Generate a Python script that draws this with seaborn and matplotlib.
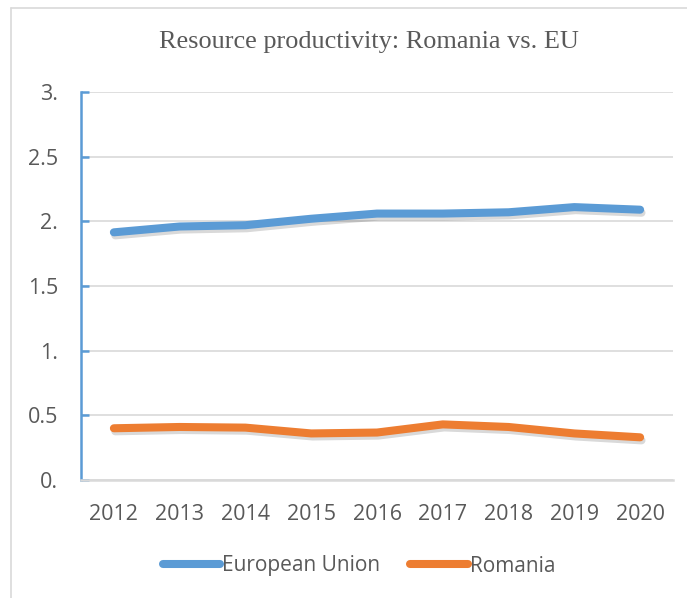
import matplotlib
matplotlib.use("Agg")
import matplotlib.pyplot as plt
import matplotlib.patheffects as pe
import seaborn as sns
import pandas as pd

years = [2012, 2013, 2014, 2015, 2016, 2017, 2018, 2019, 2020]
eu_values = [1.915, 1.96, 1.97, 2.02, 2.06, 2.06, 2.07, 2.11, 2.09]
ro_values = [0.40, 0.41, 0.405, 0.36, 0.367, 0.43, 0.41, 0.36, 0.33]
series_names = ["European Union", "Romania"]
y_ticks = [0, 0.5, 1, 1.5, 2, 2.5, 3]
y_tick_labels = ["0.", "0.5", "1.", "1.5", "2.", "2.5", "3."]
title = "Resource productivity: Romania vs. EU"

df = pd.DataFrame({
    "year": years * 2,
    "value": eu_values + ro_values,
    "series": [series_names[0]] * len(years) + [series_names[1]] * len(years),
})

sns.set_theme(style="white")
plt.rcParams["font.family"] = ["Open Sans", "DejaVu Sans"]

fig = plt.figure(figsize=(6.87, 5.98), dpi=100)
ax = fig.add_axes([81 / 687, 1 - 480 / 598, (673 - 81) / 687, (480 - 92) / 598])

palette = {"European Union": "#5b9bd5", "Romania": "#ed7d31"}
sns.lineplot(data=df, x="year", y="value", hue="series", palette=palette,
             linewidth=5.8, ax=ax, legend=False, solid_capstyle="round",
             solid_joinstyle="round")
for line in ax.lines:
    line.set_path_effects([pe.SimpleLineShadow(offset=(1.0, -2.2), alpha=0.15, shadow_color="black"),
                           pe.Normal()])

ax.set_xlim(years[0] - 0.5, years[-1] + 0.5)
ax.set_ylim(0, 3)
ax.set_yticks(y_ticks)
ax.set_yticklabels(y_tick_labels)
ax.set_xticks(years)
ax.set_xticklabels([str(y) for y in years])
ax.set_xlabel("")
ax.set_ylabel("")

ax.grid(axis="y", color="#d9d9d9", linewidth=1.2)
ax.set_axisbelow(True)
for s in ["top", "right"]:
    ax.spines[s].set_visible(False)
ax.spines["left"].set_color("#5b9bd5")
ax.spines["left"].set_linewidth(1.8)
ax.spines["bottom"].set_color("#d9d9d9")
ax.spines["bottom"].set_linewidth(1.8)

ax.tick_params(axis="y", which="both", left=True, direction="in", length=6, width=1.8,
               color="#5b9bd5", labelsize=15.5, labelcolor="#595959", pad=16.5)
ax.tick_params(axis="x", bottom=False, labelsize=15.5, labelcolor="#595959", pad=11)

fig.text(369 / 687, 1 - 42 / 598, title, ha="center", va="center",
         fontsize=18.9, color="#595959", family=["Liberation Serif", "DejaVu Serif"])

# chart frame (left and top edges visible)
fig.add_artist(plt.Line2D([11 / 687, 11 / 687], [0, 1 - 8 / 598], transform=fig.transFigure,
                          color="#d9d9d9", linewidth=1.2))
fig.add_artist(plt.Line2D([11 / 687, 1], [1 - 8 / 598, 1 - 8 / 598], transform=fig.transFigure,
                          color="#d9d9d9", linewidth=1.2))

handles = [plt.Line2D([], [], color=palette[n], linewidth=5.8, solid_capstyle="round") for n in series_names]
fig.legend(handles, series_names, loc="center", bbox_to_anchor=(359 / 687, 1 - 566 / 598),
           ncol=2, frameon=False, fontsize=15, handlelength=2.75, handletextpad=0.1,
           columnspacing=1.45, labelcolor="#595959")

fig.savefig("out.png", dpi=100)
